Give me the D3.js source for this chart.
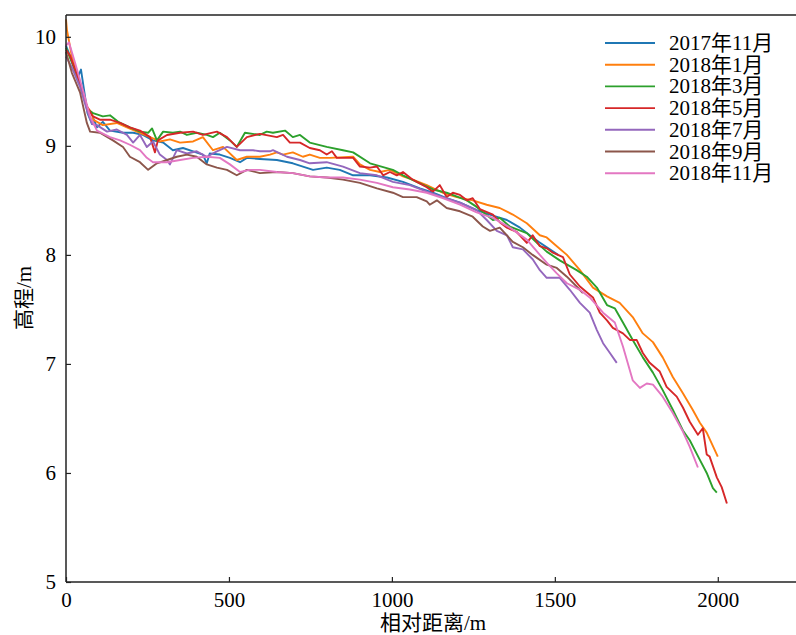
<!DOCTYPE html>
<html>
<head>
<meta charset="utf-8">
<script src="https://cdn.jsdelivr.net/npm/d3@7"></script>
<style>
  body { margin: 0; background: #fff; }
  svg { display: block; }
</style>
</head>
<body>
<svg id="chart"></svg>
<script>
// series labels (legend order) and colours
const labels = ["2017年11月", "2018年1月", "2018年3月", "2018年5月", "2018年7月", "2018年9月", "2018年11月"];
const colors = ["#1f77b4", "#ff7f0e", "#2ca02c", "#d62728", "#9467bd", "#8c564b", "#e377c2"];

const xTicks = [0, 500, 1000, 1500, 2000];
const yTicks = [5, 6, 7, 8, 9, 10];

// [relative distance (m), elevation (m)]
const s2017_11 = [[0,9.92],[18,9.78],[35,9.62],[46,9.70],[55,9.52],[66,9.30],[80,9.20],[83,9.26],[95,9.17],[113,9.22],[135,9.14],[175,9.12],[206,9.12],[236,9.10],[267,9.05],[298,9.03],[328,8.96],[359,8.98],[390,8.95],[420,8.92],[432,8.84],[441,8.93],[472,8.92],[503,8.89],[534,8.85],[555,8.89],[595,8.88],[647,8.87],[696,8.84],[727,8.81],[758,8.78],[800,8.80],[840,8.78],[881,8.73],[933,8.73],[985,8.71],[1034,8.67],[1086,8.61],[1126,8.57],[1168,8.52],[1209,8.48],[1260,8.41],[1310,8.36],[1353,8.32],[1393,8.25],[1423,8.18],[1450,8.12],[1480,8.06],[1510,8.00]];
const s2018_01 = [[0,10.16],[3,10.06],[18,9.82],[43,9.58],[64,9.36],[80,9.30],[83,9.24],[113,9.19],[156,9.21],[187,9.17],[227,9.12],[258,9.08],[288,9.04],[319,9.06],[350,9.03],[390,9.04],[420,9.08],[451,8.96],[482,8.99],[524,8.87],[555,8.90],[595,8.90],[626,8.92],[647,8.94],[666,8.92],[696,8.94],[727,8.90],[748,8.92],[779,8.89],[810,8.89],[881,8.90],[902,8.83],[933,8.78],[963,8.76],[994,8.78],[1034,8.72],[1064,8.69],[1107,8.64],[1156,8.57],[1199,8.53],[1248,8.50],[1291,8.46],[1331,8.43],[1371,8.37],[1414,8.29],[1454,8.18],[1475,8.16],[1506,8.08],[1537,8.00],[1577,7.86],[1617,7.70],[1660,7.62],[1699,7.56],[1739,7.43],[1770,7.28],[1801,7.20],[1831,7.06],[1862,6.88],[1893,6.73],[1923,6.58],[1945,6.46],[1966,6.37],[2000,6.15]];
const s2018_03 = [[0,9.90],[20,9.75],[45,9.55],[67,9.33],[83,9.30],[113,9.27],[135,9.28],[160,9.22],[196,9.17],[227,9.13],[252,9.12],[264,9.16],[279,9.05],[298,9.13],[328,9.12],[350,9.13],[371,9.10],[401,9.12],[432,9.10],[451,9.08],[472,9.12],[503,9.05],[524,8.99],[549,9.12],[595,9.10],[616,9.13],[635,9.12],[672,9.14],[696,9.08],[718,9.10],[748,9.03],[800,8.99],[850,8.96],[881,8.94],[933,8.84],[1003,8.78],[1034,8.73],[1076,8.67],[1126,8.60],[1168,8.57],[1230,8.50],[1260,8.44],[1310,8.32],[1331,8.34],[1362,8.26],[1414,8.20],[1445,8.11],[1475,8.03],[1515,7.95],[1567,7.86],[1598,7.80],[1629,7.70],[1660,7.54],[1684,7.51],[1709,7.38],[1739,7.22],[1770,7.06],[1801,6.92],[1831,6.76],[1862,6.58],[1893,6.39],[1914,6.30],[1945,6.12],[1966,6.00],[1985,5.86],[1997,5.82]];
const s2018_05 = [[0,9.88],[12,9.83],[40,9.60],[64,9.36],[80,9.28],[83,9.27],[104,9.24],[135,9.24],[166,9.21],[196,9.17],[227,9.14],[258,9.08],[273,8.94],[282,9.05],[310,9.10],[350,9.12],[390,9.13],[420,9.10],[463,9.13],[494,9.08],[524,8.99],[555,9.08],[595,9.11],[647,9.08],[666,9.10],[687,9.03],[718,9.03],[748,8.98],[779,8.96],[800,8.92],[816,8.95],[831,8.89],[881,8.89],[902,8.81],[933,8.80],[954,8.81],[973,8.73],[994,8.76],[1015,8.73],[1034,8.76],[1064,8.69],[1107,8.62],[1126,8.58],[1147,8.64],[1168,8.53],[1187,8.57],[1209,8.55],[1230,8.50],[1248,8.52],[1270,8.42],[1310,8.37],[1331,8.30],[1353,8.25],[1383,8.21],[1414,8.11],[1432,8.18],[1454,8.08],[1475,8.06],[1494,8.02],[1525,7.98],[1546,7.82],[1577,7.71],[1617,7.61],[1638,7.47],[1660,7.40],[1678,7.33],[1709,7.28],[1730,7.22],[1751,7.22],[1770,7.10],[1791,7.01],[1822,6.93],[1843,6.79],[1874,6.70],[1893,6.60],[1914,6.47],[1939,6.35],[1954,6.41],[1966,6.17],[1975,6.15],[1997,5.96],[2012,5.87],[2028,5.72]];
const s2018_07 = [[0,9.82],[18,9.72],[43,9.54],[64,9.33],[80,9.20],[95,9.19],[126,9.13],[156,9.15],[187,9.10],[206,9.03],[227,9.10],[248,8.99],[267,9.04],[288,8.92],[310,8.87],[319,8.83],[340,8.96],[371,8.93],[401,8.95],[432,8.90],[463,8.95],[494,8.99],[534,8.96],[574,8.96],[595,8.95],[626,8.95],[635,8.96],[678,8.90],[718,8.87],[748,8.84],[800,8.85],[850,8.81],[902,8.75],[954,8.73],[1003,8.67],[1055,8.64],[1107,8.58],[1156,8.53],[1209,8.48],[1260,8.41],[1291,8.32],[1322,8.22],[1353,8.18],[1371,8.07],[1402,8.05],[1432,7.96],[1454,7.86],[1475,7.79],[1515,7.79],[1546,7.68],[1577,7.56],[1607,7.47],[1629,7.31],[1648,7.19],[1669,7.10],[1690,7.01]];
const s2018_09 = [[0,9.86],[18,9.67],[43,9.49],[64,9.21],[74,9.13],[104,9.12],[144,9.05],[175,8.99],[196,8.90],[227,8.85],[252,8.78],[279,8.84],[310,8.87],[340,8.90],[371,8.92],[401,8.90],[432,8.83],[463,8.80],[494,8.78],[524,8.73],[555,8.78],[595,8.75],[647,8.76],[696,8.75],[748,8.72],[800,8.71],[850,8.69],[902,8.66],[954,8.61],[1003,8.57],[1034,8.53],[1076,8.53],[1107,8.49],[1116,8.46],[1138,8.50],[1168,8.43],[1209,8.40],[1248,8.35],[1279,8.26],[1301,8.22],[1331,8.25],[1371,8.12],[1402,8.07],[1432,8.00],[1475,7.91],[1506,7.88],[1537,7.80],[1567,7.71],[1586,7.65]];
const s2018_11 = [[0,9.92],[9,9.95],[28,9.76],[52,9.51],[74,9.27],[95,9.14],[135,9.08],[166,9.05],[196,9.01],[227,8.96],[248,8.89],[267,8.85],[310,8.85],[350,8.87],[390,8.89],[432,8.90],[472,8.89],[503,8.83],[534,8.76],[564,8.78],[595,8.78],[647,8.76],[696,8.75],[748,8.72],[800,8.71],[850,8.71],[902,8.69],[954,8.66],[1003,8.62],[1055,8.60],[1107,8.57],[1156,8.52],[1209,8.46],[1260,8.39],[1310,8.34],[1362,8.25],[1414,8.14],[1454,8.00],[1475,7.93],[1506,7.83],[1537,7.74],[1577,7.68],[1607,7.61],[1648,7.47],[1684,7.38],[1709,7.16],[1739,6.85],[1761,6.78],[1782,6.82],[1801,6.81],[1831,6.70],[1862,6.55],[1893,6.38],[1914,6.24],[1939,6.05]];

const seriesData = [s2017_11, s2018_01, s2018_03, s2018_05, s2018_07, s2018_09, s2018_11];

const width = 796;
const height = 635;
const plotLeft = 66, plotRight = 796, plotTop = 15, plotBottom = 582;
const serifFont = "'Liberation Serif', 'Times New Roman', Times, 'Noto Sans CJK SC', serif";

const svg = d3.select("#chart").attr("width", width).attr("height", height);

const xScale = d3.scaleLinear().domain([0, 2240]).range([plotLeft, plotRight]);
const yScale = d3.scaleLinear().domain([5, 10.2]).range([plotBottom, plotTop]);

const line = d3.line()
  .x((d) => xScale(d[0]))
  .y((d) => yScale(d[1]));

// curves
svg.append("g")
  .selectAll("path")
  .data(seriesData)
  .enter()
  .append("path")
  .attr("d", (d) => line(d))
  .attr("fill", "none")
  .attr("stroke", (d, i) => colors[i])
  .attr("stroke-width", 1.9)
  .attr("stroke-linejoin", "round");

// axes, ticks pointing inward
const xAxis = d3.axisBottom(xScale).tickValues(xTicks).tickFormat(d3.format("d"))
  .tickSizeInner(-5).tickSizeOuter(0).tickPadding(10);
const yAxis = d3.axisLeft(yScale).tickValues(yTicks).tickFormat(d3.format("d"))
  .tickSizeInner(-5).tickSizeOuter(0).tickPadding(10);

const gx = svg.append("g")
  .attr("transform", "translate(0, " + plotBottom + ")")
  .call(xAxis);

const gy = svg.append("g")
  .attr("transform", "translate(" + plotLeft + ", 0)")
  .call(yAxis);

svg.selectAll(".tick text")
  .style("font-family", serifFont)
  .style("font-size", "21px")
  .attr("fill", "#000");
svg.selectAll(".domain").remove();
svg.selectAll(".tick line").attr("stroke", "#222").attr("stroke-width", 1.2);

// spines
svg.append("line").attr("x1", plotLeft).attr("x2", plotLeft).attr("y1", plotTop).attr("y2", plotBottom)
  .attr("stroke", "#222").attr("stroke-width", 1.5);
svg.append("line").attr("x1", plotLeft).attr("x2", plotRight).attr("y1", plotBottom).attr("y2", plotBottom)
  .attr("stroke", "#222").attr("stroke-width", 1.5);
svg.append("line").attr("x1", plotLeft).attr("x2", plotRight).attr("y1", plotTop).attr("y2", plotTop)
  .attr("stroke", "#222").attr("stroke-width", 1.5);

// axis titles
svg.append("text")
  .attr("x", 433)
  .attr("y", 630)
  .attr("text-anchor", "middle")
  .style("font-family", serifFont)
  .style("font-size", "21px")
  .text("相对距离/m");

svg.append("text")
  .attr("transform", "translate(31, 298) rotate(-90)")
  .attr("text-anchor", "middle")
  .style("font-family", serifFont)
  .style("font-size", "21px")
  .text("高程/m");

// legend
const legend = svg.append("g");
labels.forEach((label, i) => {
  const y = 43 + i * 21.7;
  legend.append("line")
    .attr("x1", 605).attr("x2", 655)
    .attr("y1", y).attr("y2", y)
    .attr("stroke", colors[i])
    .attr("stroke-width", 1.9);
  legend.append("text")
    .attr("x", 669)
    .attr("y", y + 7)
    .style("font-family", serifFont)
    .style("font-size", "21px")
    .text(label);
});
</script>
</body>
</html>
